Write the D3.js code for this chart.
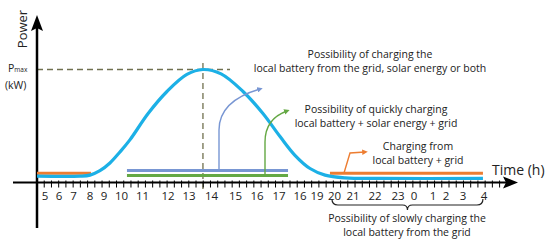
<!DOCTYPE html>
<html>
<head>
<meta charset="utf-8">
<script src="https://cdn.jsdelivr.net/npm/d3@7"></script>
<style>
  body { margin: 0; background: #fff; }
  svg text { font-family: "Open Sans", "Liberation Sans", sans-serif; fill: #222; }
</style>
</head>
<body>
<svg width="550" height="243"></svg>
<script>
// hour labels as printed on the axis (the "16" after 17 is in the original)
const hourLabels = ["5","6","7","8","9","10","11","12","13","14","15","16","17","16","19","20","21","22","23","0","1","2","3","4"];
const hours = d3.range(5, 29);   // 5..28, past midnight continues at 24
// pixel centre of each label on the (uneven) original axis
const labelX = [45,59,73.5,90,104,121.5,142.5,168,189,211.5,235.5,257,279,300,317,334.5,353,375,398,414,433,446,463,484];

// power curve, hours vs relative power (1 = Pmax)
const curveHour  = [4.43, 7.39, 8.0, 8.71, 9.34, 9.91, 10.4, 11.22, 11.96, 12.9, 13.62, 14.4, 15.35, 16.27, 17.05, 17.76, 18.59, 19.46, 20.57, 22.22, 27.95];
const curvePower = [0.03, 0.03, 0.04, 0.08, 0.15, 0.25, 0.36, 0.6, 0.8, 0.955, 1, 0.96, 0.8, 0.6, 0.39, 0.22, 0.1, 0.04, 0.015, 0.01, 0.01];

// charging periods [start, end] in hours
const orangeEarly = [4.43, 8.07];
const orangeLate  = [19.74, 27.95];
const daySpan     = [10.26, 17.43];
const peakHour = 13.62;

const svg = d3.select("svg");
const axisY = 182.5, axisX = 37;

// hour -> pixel, piecewise since the original axis is not evenly spaced
const x = d3.scaleLinear()
    .domain([4.43].concat(hours, [30.2]))
    .range([axisX].concat(labelX, [518]));
const y = d3.scaleLinear().domain([0, 1]).range([179.5, 69.5]);

// minor ticks, evenly spaced along the axis
const tickScale = d3.scaleLinear().domain([0, 64]).range([axisX, 499.6]);

// dashed Pmax guides
svg.append("line")
    .attr("x1", axisX).attr("x2", 230)
    .attr("y1", y(1)).attr("y2", y(1))
    .attr("stroke", "#70704f").attr("stroke-width", 1.3).attr("stroke-dasharray", "6,4");
svg.append("line")
    .attr("x1", x(peakHour)).attr("x2", x(peakHour))
    .attr("y1", 63).attr("y2", 191)
    .attr("stroke", "#70704f").attr("stroke-width", 1.3).attr("stroke-dasharray", "6,4");

// axes
const axes = svg.append("g");
axes.append("line")
    .attr("x1", 13).attr("x2", 506).attr("y1", axisY).attr("y2", axisY)
    .attr("stroke", "#000").attr("stroke-width", 2);
axes.append("path")
    .attr("d", `M518,${axisY} L503,${axisY - 6} L506,${axisY} L503,${axisY + 6} Z`)
    .attr("fill", "#000");
axes.append("line")
    .attr("x1", axisX).attr("x2", axisX).attr("y1", 228).attr("y2", 28)
    .attr("stroke", "#000").attr("stroke-width", 2.5);
axes.append("path")
    .attr("d", `M${axisX},15 L${axisX - 6},31 L${axisX},28 L${axisX + 6},31 Z`)
    .attr("fill", "#000");

axes.selectAll(".mtick")
  .data(d3.range(1, 65))
  .join("line")
    .attr("class", "mtick")
    .attr("x1", d => tickScale(d)).attr("x2", d => tickScale(d))
    .attr("y1", axisY - 2).attr("y2", axisY + 5)
    .attr("stroke", "#000").attr("stroke-width", 1);

axes.selectAll(".hlabel")
  .data(hours)
  .join("text")
    .attr("class", "hlabel")
    .attr("x", d => x(d)).attr("y", 200)
    .attr("text-anchor", "middle")
    .attr("font-size", 11.5)
    .text((d, i) => hourLabels[i]);

// axis titles
svg.append("text")
    .attr("transform", "translate(27,29) rotate(-90)")
    .attr("text-anchor", "middle")
    .attr("font-size", 13)
    .text("Power");
const pm = svg.append("text").attr("x", 8).attr("y", 72).attr("font-size", 10.5);
pm.append("tspan").text("P");
pm.append("tspan").attr("font-size", 6.5).text("max");
svg.append("text").attr("x", 5).attr("y", 89).attr("font-size", 10.5).text("(kW)");
svg.append("text").attr("x", 492).attr("y", 175).attr("font-size", 14).text("Time (h)");

// charging period bars
const bars = [
  {span: orangeEarly, yy: 173.3, color: "#ed7d31"},
  {span: orangeLate,  yy: 173.3, color: "#ed7d31"},
  {span: daySpan,     yy: 170.5, color: "#7896d3"},
  {span: daySpan,     yy: 175.5, color: "#64a844"}
];
svg.selectAll(".bar")
  .data(bars)
  .join("line")
    .attr("class", "bar")
    .attr("x1", d => x(d.span[0])).attr("x2", d => x(d.span[1]))
    .attr("y1", d => d.yy).attr("y2", d => d.yy)
    .attr("stroke", d => d.color).attr("stroke-width", 3);

// power curve
const line = d3.line()
    .x(d => x(d[0]))
    .y(d => y(d[1]))
    .curve(d3.curveCatmullRom.alpha(0.5));
svg.append("path")
    .datum(d3.zip(curveHour, curvePower))
    .attr("d", line)
    .attr("fill", "none")
    .attr("stroke", "#1cb0e6")
    .attr("stroke-width", 3.2);

// arrows
const defs = svg.append("defs");
function marker(id, color) {
  defs.append("marker")
      .attr("id", id)
      .attr("viewBox", "0 0 10 10")
      .attr("refX", 5).attr("refY", 5)
      .attr("markerWidth", 4).attr("markerHeight", 4)
      .attr("orient", "auto")
    .append("path")
      .attr("d", "M0,0 L10,5 L0,10 Z")
      .attr("fill", color);
}
marker("mBlue", "#7896d3");
marker("mGreen", "#64a844");
marker("mOrange", "#ed7d31");

svg.append("path")
    .attr("d", "M219,170 L219,130 C219,108 236,96 260,89")
    .attr("fill", "none").attr("stroke", "#7896d3").attr("stroke-width", 1.4)
    .attr("marker-end", "url(#mBlue)");
svg.append("path")
    .attr("d", "M265,175 L265,142 C265,126 273,116 287,111")
    .attr("fill", "none").attr("stroke", "#64a844").attr("stroke-width", 1.4)
    .attr("marker-end", "url(#mGreen)");
svg.append("path")
    .attr("d", "M344,173 L350,153 L365,152")
    .attr("fill", "none").attr("stroke", "#ed7d31").attr("stroke-width", 1.4)
    .attr("marker-end", "url(#mOrange)");

// brace under the night hours
const bx0 = x(orangeLate[0]) + 2, bx1 = x(orangeLate[1]), bm = (bx0 + bx1) / 2;
svg.append("path")
    .attr("d", `M${bx0},199 Q${bx0},205 ${bx0 + 6},205 L${bm - 5},205 Q${bm},205 ${bm},210 Q${bm},205 ${bm + 5},205 L${bx1 - 6},205 Q${bx1},205 ${bx1},199`)
    .attr("fill", "none").attr("stroke", "#222").attr("stroke-width", 1.2);

// annotations
const notes = [
  {cx: 370, y0: 58, lines: ["Possibility of charging the", "local battery from the grid, solar energy or both"]},
  {cx: 376, y0: 113, lines: ["Possibility of quickly charging", "local battery + solar energy + grid"]},
  {cx: 418, y0: 150, lines: ["Charging from", "local battery + grid"]},
  {cx: 407, y0: 222, lines: ["Possibility of slowly charging the", "local battery from the grid"]}
];
notes.forEach(n => {
  svg.append("text")
      .attr("x", n.cx).attr("y", n.y0)
      .attr("text-anchor", "middle")
      .attr("font-size", 10.5)
    .selectAll("tspan")
    .data(n.lines)
    .join("tspan")
      .attr("x", n.cx)
      .attr("dy", (d, i) => i === 0 ? 0 : 14)
      .text(d => d);
});
</script>
</body>
</html>
